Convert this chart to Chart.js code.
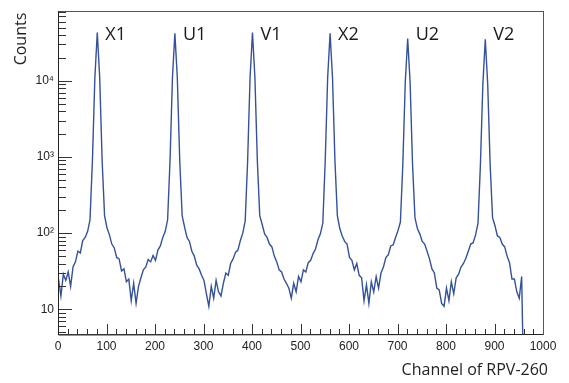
<!DOCTYPE html>
<html>
<head>
<meta charset="utf-8">
<script src="https://cdn.jsdelivr.net/npm/chart.js@4.4.1/dist/chart.umd.min.js"></script>
<style>
  html, body { margin: 0; padding: 0; background: #fff; }
</style>
</head>
<body>
<canvas id="specChart" width="569" height="383"></canvas>
<script>
// ---- data: counts per 5-channel bin ----
const binStart = 1;   // centre of first bin (channel)
const binWidth = 5;
const counts = [
  25, 15, 29, 24, 31, 20, 36, 42, 58, 55, 80, 88, 105, 150, 900, 11000,
  43000, 11000, 900, 170, 118, 95, 72, 64, 48, 46, 32, 34, 23, 25, 13, 22,
  12, 20, 26, 33, 36, 45, 42, 51, 44, 60, 68, 88, 105, 150, 900, 11000,
  42000, 11000, 900, 170, 120, 88, 78, 58, 50, 38, 34, 28, 24, 16, 11, 20,
  14, 24, 17, 15, 22, 30, 28, 40, 46, 56, 60, 80, 100, 145, 900, 11000,
  43000, 11000, 900, 170, 130, 98, 88, 72, 66, 50, 42, 33, 31, 25, 22, 19,
  14, 22, 17, 27, 23, 33, 31, 41, 44, 54, 62, 82, 98, 135, 900, 11000,
  42000, 11000, 900, 170, 115, 92, 78, 72, 48, 44, 33, 40, 28, 26, 13, 21,
  12, 23, 17, 27, 19, 30, 36, 48, 52, 68, 70, 88, 108, 140, 800, 9500,
  36000, 9500, 800, 160, 115, 98, 78, 72, 58, 46, 34, 30, 19, 18, 12, 11,
  19, 13, 23, 16, 26, 29, 36, 40, 47, 58, 72, 75, 95, 135, 800, 9000,
  35000, 9000, 800, 160, 125, 92, 88, 72, 66, 50, 41, 25, 25, 17, 14, 27,
  0.5
];
const channels = counts.map((_, i) => binStart + i * binWidth);

const peakNames = ['X1', 'U1', 'V1', 'X2', 'U2', 'V2'];
const peakChannels = [81, 241, 401, 561, 721, 881];

const yTickValues = [10, 100, 1000, 10000];
const yTickLabels = ['10', '10\u00B2', '10\u00B3', '10\u2074'];
const xTitle = 'Channel of RPV-260';
const yTitle = 'Counts';

// ---- ROOT-style frame, inward ticks, labels ----
const rootStyle = {
  id: 'rootStyle',
  afterDatasetsDraw(chart) {
    const { ctx, chartArea: a, scales: { x, y } } = chart;
    ctx.save();
    ctx.strokeStyle = '#333';
    ctx.lineWidth = 1;
    ctx.beginPath();
    for (let k = 0; k <= 4; k++) {
      for (let m = 1; m <= 9; m++) {
        const v = m * Math.pow(10, k);
        if (v < y.min || v > y.max) continue;
        const py = Math.round(y.getPixelForValue(v)) + 0.5;
        const len = m === 1 ? 14 : 8;
        ctx.moveTo(a.left, py);
        ctx.lineTo(a.left + len, py);
      }
    }
    for (let v = 0; v <= 1000; v += 20) {
      const px = Math.round(x.getPixelForValue(v)) + 0.5;
      const len = v % 100 === 0 ? 10 : 5;
      ctx.moveTo(px, a.bottom);
      ctx.lineTo(px, a.bottom - len);
    }
    ctx.stroke();

    ctx.strokeStyle = '#555';
    ctx.strokeRect(Math.round(a.left) + 0.5, Math.round(a.top) + 0.5,
                   Math.round(a.right - a.left), Math.round(a.bottom - a.top));
    ctx.strokeStyle = '#222';
    ctx.beginPath();
    ctx.moveTo(Math.round(a.left) + 0.5, a.top);
    ctx.lineTo(Math.round(a.left) + 0.5, a.bottom + 1);
    ctx.lineTo(a.right, Math.round(a.bottom) + 0.5);
    ctx.stroke();

    // peak names
    ctx.fillStyle = '#1a1a1a';
    ctx.font = '18px "Open Sans"';
    ctx.textAlign = 'left';
    ctx.textBaseline = 'alphabetic';
    peakNames.forEach((name, i) => {
      ctx.fillText(name, x.getPixelForValue(peakChannels[i]) + 8, 40);
    });

    // axis titles
    ctx.font = '16px "Open Sans"';
    ctx.fillStyle = '#222';
    ctx.textAlign = 'right';
    ctx.fillText(xTitle, 548, 375);

    ctx.translate(21, 39);
    ctx.rotate(-Math.PI / 2);
    ctx.textAlign = 'center';
    ctx.textBaseline = 'middle';
    ctx.fillText(yTitle, 0, 0);
    ctx.restore();
  }
};

const ctx = document.getElementById('specChart').getContext('2d');
const chart = new Chart(ctx, {
  type: 'line',
  data: {
    datasets: [{
      label: 'Counts',
      data: channels.map((c, i) => ({ x: c, y: counts[i] })),
      borderColor: '#34519a',
      borderWidth: 1.4,
      pointRadius: 0,
      tension: 0,
      fill: false
    }]
  },
  options: {
    responsive: false,
    animation: false,
    events: [],
    layout: { padding: { left: 0, right: 26, top: 6, bottom: 0 } },
    plugins: { legend: { display: false }, tooltip: { enabled: false } },
    scales: {
      x: {
        type: 'linear',
        min: 0,
        max: 1000,
        grid: { display: false, drawTicks: false },
        border: { display: false },
        ticks: {
          stepSize: 100,
          padding: 5,
          color: '#222',
          maxRotation: 0,
          font: { family: '"Liberation Sans", Arial, sans-serif', size: 12 },
          callback: v => String(v)
        },
        afterFit: s => { s.height = 49; }
      },
      y: {
        type: 'logarithmic',
        min: 4.75,
        max: 82000,
        grid: { display: false, drawTicks: false },
        border: { display: false },
        afterBuildTicks: s => { s.ticks = yTickValues.map(v => ({ value: v })); },
        ticks: {
          padding: 4,
          color: '#222',
          font: { family: '"Liberation Sans", Arial, sans-serif', size: 12 },
          callback: v => {
            const i = yTickValues.indexOf(v);
            return i >= 0 ? yTickLabels[i] : '';
          }
        },
        afterFit: s => { s.width = 58; }
      }
    }
  },
  plugins: [rootStyle]
});
</script>
</body>
</html>
